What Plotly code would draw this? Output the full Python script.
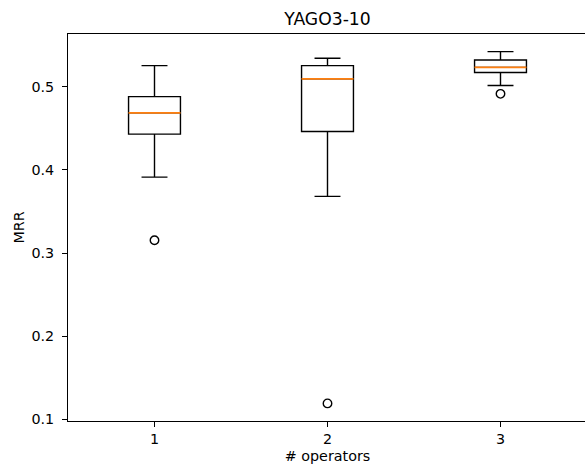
import plotly.graph_objects as go

# Data
positions = [1, 2, 3]
tick_labels = ["1", "2", "3"]
q1 = [0.4431, 0.4463, 0.5172]
median = [0.4688, 0.5096, 0.5235]
q3 = [0.4883, 0.5256, 0.5324]
lower_whisker = [0.3914, 0.3682, 0.5016]
upper_whisker = [0.5256, 0.5344, 0.5424]
outlier_x = [1, 2, 3]
outlier_y = [0.3154, 0.1192, 0.4916]
y_ticks = [0.1, 0.2, 0.3, 0.4, 0.5]
y_tick_labels = ["0.1", "0.2", "0.3", "0.4", "0.5"]

FONT = "DejaVu Sans"
FS = 14.3
# the reference axes run slightly past the right edge of the 585px window
W, H = 587, 464
ML, MT = 68, 34
MB = H - 421
px_per_unit = 173.0
plot_w = W - ML

fig = go.Figure()
fig.add_trace(go.Box(
    x=positions, q1=q1, median=median, q3=q3,
    lowerfence=lower_whisker, upperfence=upper_whisker,
    width=0.3, whiskerwidth=0.5, boxpoints=False,
    line=dict(color="black", width=1.4), fillcolor="rgba(0,0,0,0)",
    showlegend=False, hoverinfo="skip",
))
fig.add_trace(go.Scatter(
    x=positions, y=median, mode="markers",
    marker=dict(symbol="line-ew", size=0.3 * px_per_unit / 1.4,
                line=dict(color="#ff7f0e", width=1.8)),
    showlegend=False, hoverinfo="skip",
))
fig.add_trace(go.Scatter(
    x=outlier_x, y=outlier_y, mode="markers",
    marker=dict(symbol="circle-open", size=8.5, color="black",
                line=dict(color="black", width=1.4)),
    showlegend=False, hoverinfo="skip",
))

fig.update_layout(
    width=W, height=H,
    margin=dict(l=ML, r=0, t=MT, b=MB, pad=0),
    paper_bgcolor="white", plot_bgcolor="white",
    font=dict(family=FONT, size=FS, color="black"),
    title=dict(text="YAGO3-10", x=0.5, xanchor="center", xref="paper",
               y=1 - 18.5 / H, yref="container", yanchor="middle",
               font=dict(family=FONT, size=17.2, color="black")),
    showlegend=False,
)
fig.update_xaxes(
    range=[0.5, 0.5 + plot_w / px_per_unit],
    tickmode="array", tickvals=positions, ticktext=tick_labels,
    ticks="outside", ticklen=5, tickwidth=1, tickcolor="black",
    showline=True, linecolor="black", linewidth=1, mirror=True,
    showgrid=False, zeroline=False,
    title=dict(text="# operators", standoff=5,
               font=dict(family=FONT, size=FS, color="black")),
    tickfont=dict(family=FONT, size=FS, color="black"),
)
fig.update_yaxes(
    range=[0.098, 0.5636],
    tickmode="array", tickvals=y_ticks, ticktext=y_tick_labels,
    ticks="outside", ticklen=5, tickwidth=1, tickcolor="black",
    ticklabelstandoff=5,
    showline=True, linecolor="black", linewidth=1, mirror=False,
    showgrid=False, zeroline=False,
    title=dict(text="MRR", standoff=3,
               font=dict(family=FONT, size=FS, color="black")),
    tickfont=dict(family=FONT, size=FS, color="black"),
)

# the page body has an 8px default margin; remove it so the figure fills the window
fig.write_html(
    "out.html",
    config={"displayModeBar": False, "staticPlot": True},
    post_script="document.body.style.margin='0px';document.body.style.overflow='hidden';",
)
